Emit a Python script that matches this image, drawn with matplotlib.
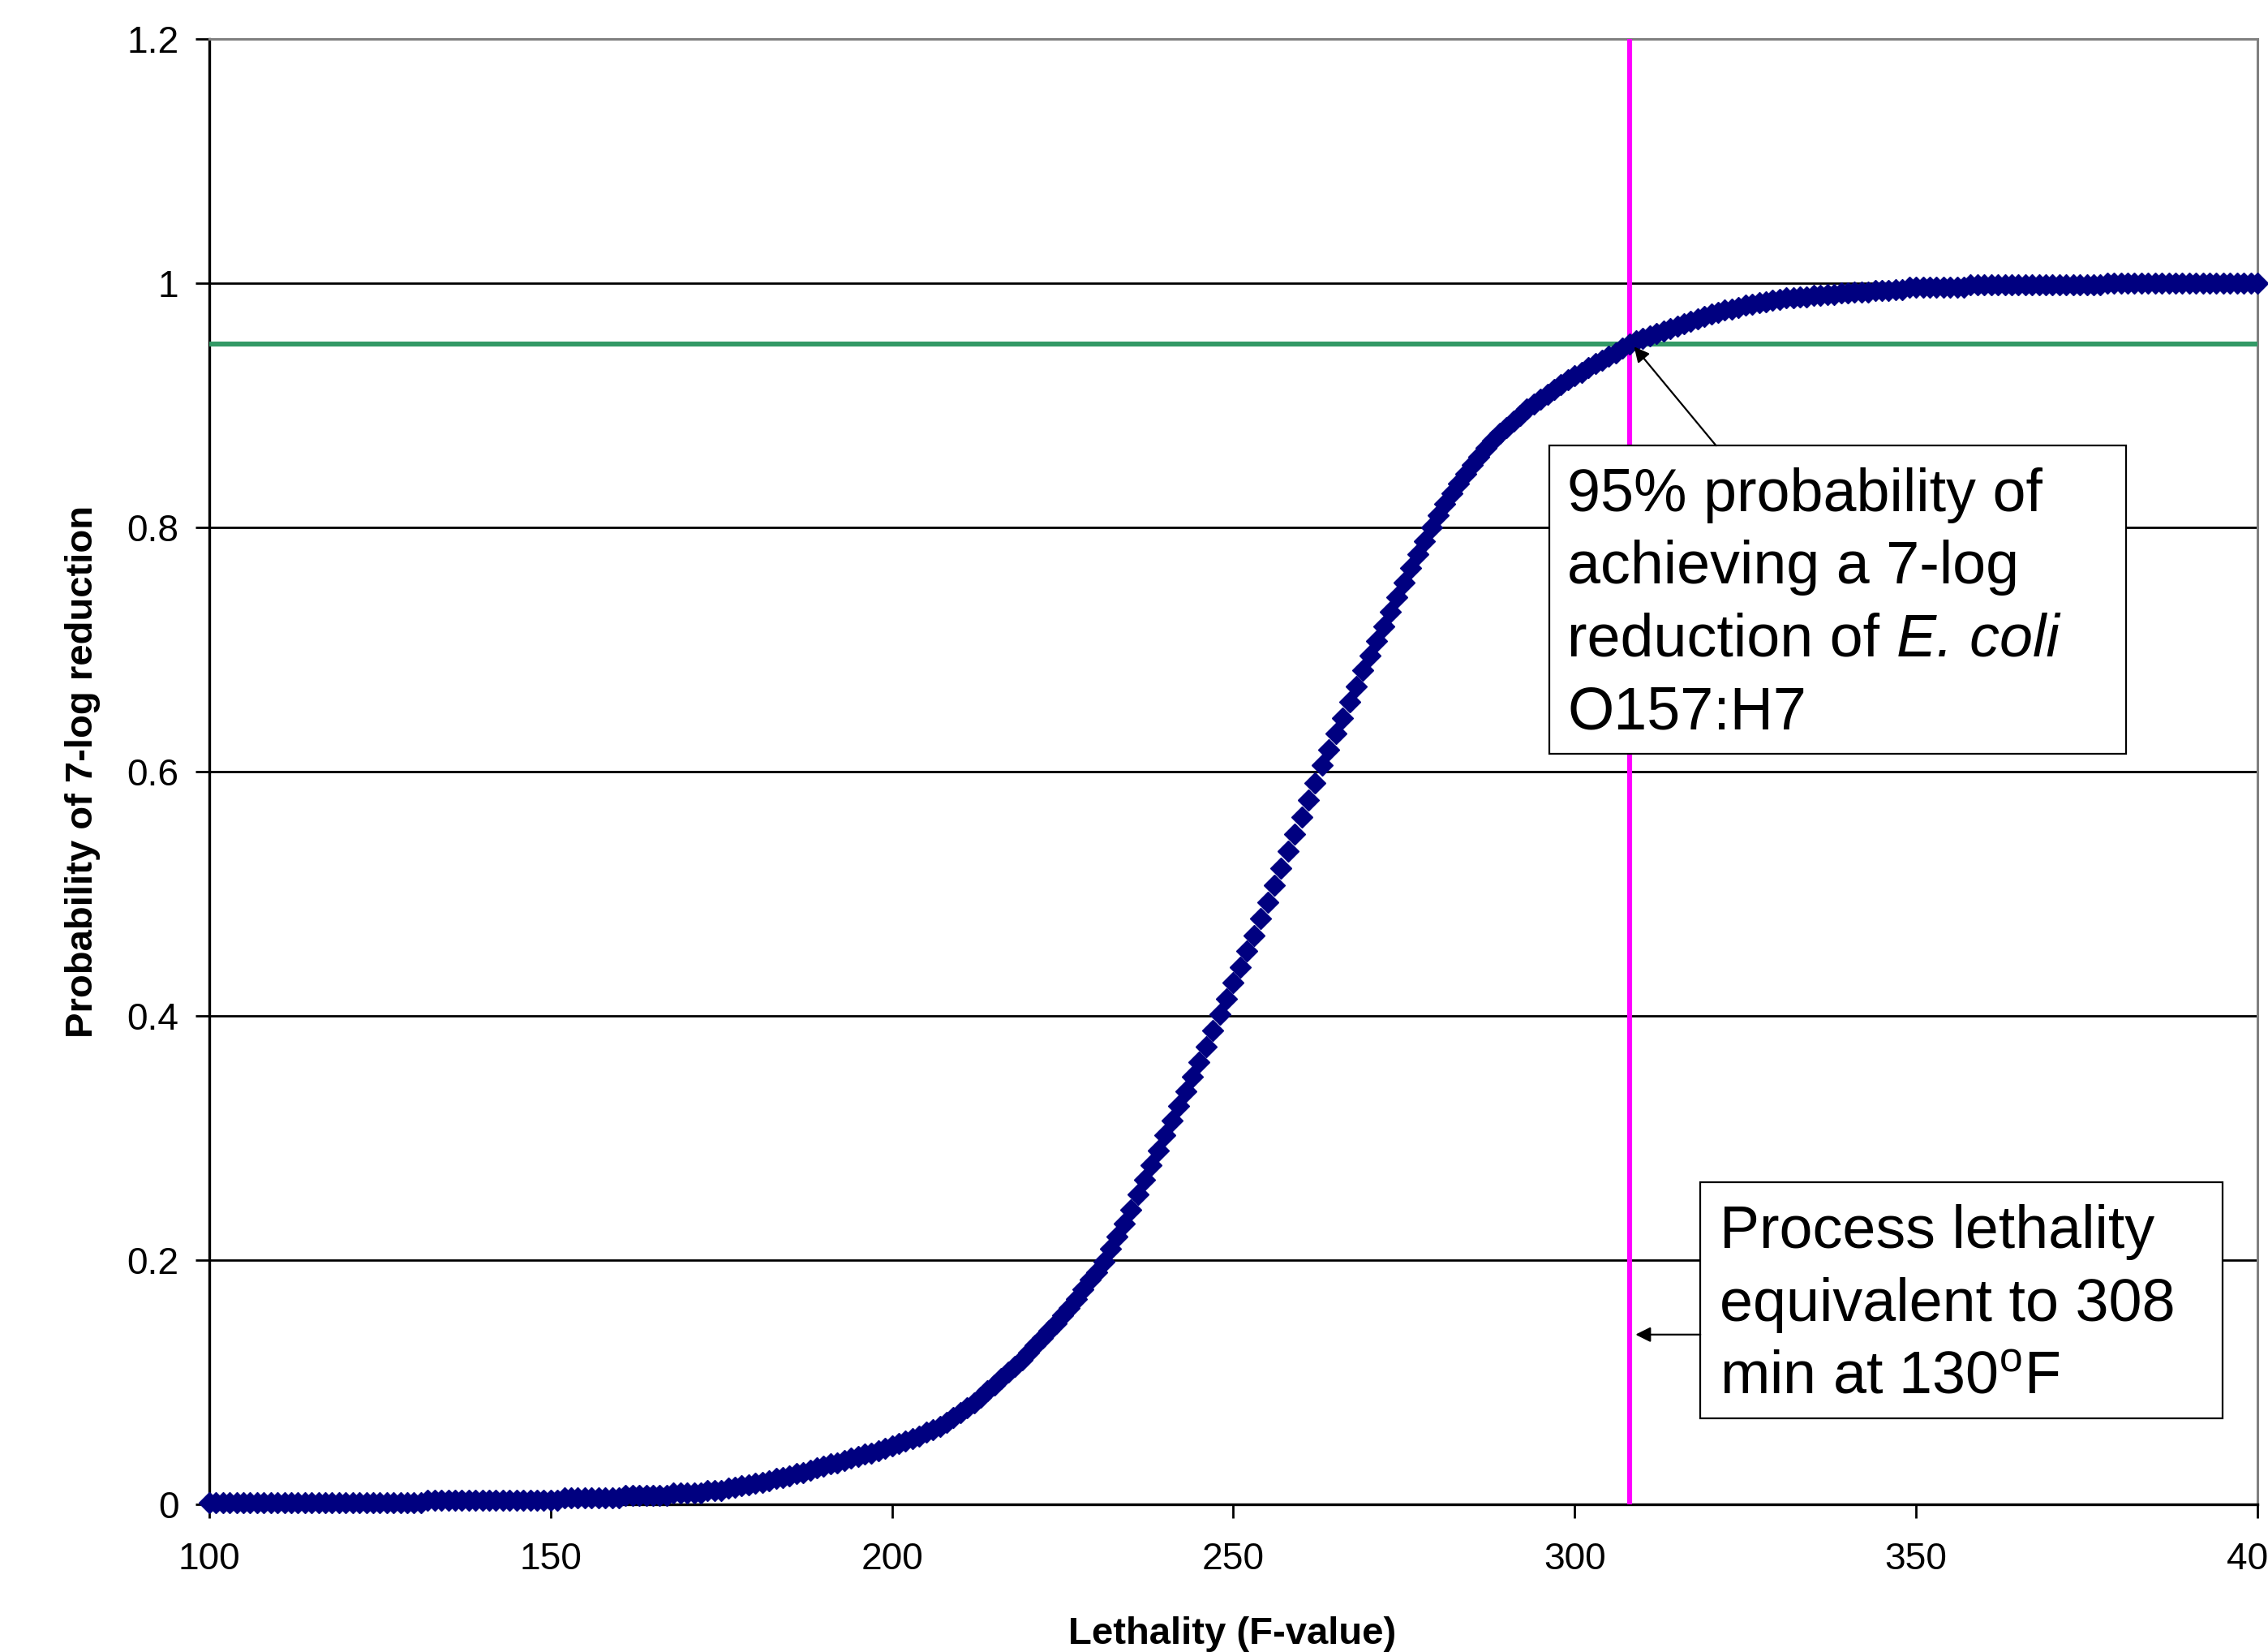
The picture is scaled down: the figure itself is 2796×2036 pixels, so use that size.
import matplotlib
matplotlib.use('Agg')
import matplotlib.pyplot as plt
from matplotlib.patches import Rectangle

plt.rcParams['font.family'] = 'Liberation Sans'
plt.rcParams['mathtext.fontset'] = 'custom'
plt.rcParams['mathtext.rm'] = 'Liberation Sans'
plt.rcParams['mathtext.it'] = 'Liberation Sans:italic'

# lethality (F-value), one point per unit
lethality = list(range(100, 401))

# probability of a 7-log reduction
probability = [
    # 100 - 131
    0.001, 0.001, 0.001, 0.001, 0.001, 0.001, 0.001, 0.001, 0.001, 0.001,
    0.001, 0.001, 0.001, 0.001, 0.001, 0.001, 0.001, 0.001, 0.001, 0.001,
    0.001, 0.001, 0.001, 0.001, 0.001, 0.001, 0.001, 0.001, 0.001, 0.001,
    0.001, 0.001,
    # 132 - 151
    0.003, 0.003, 0.003, 0.003, 0.003, 0.003, 0.003, 0.003, 0.003, 0.003,
    0.003, 0.003, 0.003, 0.003, 0.003, 0.003, 0.003, 0.003, 0.003, 0.003,
    # 152 - 175
    0.005, 0.005, 0.005, 0.005, 0.005, 0.005, 0.005, 0.005, 0.005,
    0.007, 0.007, 0.007, 0.007, 0.007, 0.007, 0.007,
    0.009, 0.009, 0.009, 0.009, 0.009,
    0.011, 0.011, 0.011,
    # 176 - 345
    0.013, 0.014, 0.015, 0.016, 0.017, 0.018, 0.019, 0.021, 0.022, 0.023,
    0.025, 0.026, 0.028, 0.030, 0.031, 0.033, 0.034, 0.036, 0.038, 0.039,
    0.041, 0.042, 0.044, 0.046, 0.048, 0.050, 0.052, 0.054, 0.056, 0.059,
    0.061, 0.064, 0.067, 0.071, 0.075, 0.079, 0.083, 0.088, 0.093, 0.098,
    0.103, 0.108, 0.113, 0.118, 0.124, 0.130, 0.136, 0.142, 0.148, 0.155,
    0.161, 0.168, 0.176, 0.184, 0.190, 0.199, 0.209, 0.219, 0.230, 0.241,
    0.254, 0.266, 0.278, 0.290, 0.302, 0.314, 0.326, 0.338, 0.350, 0.362,
    0.375, 0.388, 0.401, 0.414, 0.427, 0.440, 0.453, 0.466, 0.480, 0.493,
    0.507, 0.521, 0.535, 0.549, 0.563, 0.577, 0.591, 0.605, 0.618, 0.631,
    0.644, 0.657, 0.670, 0.683, 0.695, 0.707, 0.719, 0.731, 0.743, 0.755,
    0.767, 0.778, 0.789, 0.800, 0.810, 0.819, 0.828, 0.836, 0.844, 0.851,
    0.858, 0.865, 0.871, 0.877, 0.882, 0.887, 0.892, 0.897, 0.901, 0.905,
    0.909, 0.913, 0.917, 0.921, 0.924, 0.927, 0.931, 0.934, 0.937, 0.940,
    0.943, 0.947, 0.950, 0.953, 0.955, 0.957, 0.959, 0.961, 0.963, 0.965,
    0.967, 0.969, 0.971, 0.973, 0.975, 0.976, 0.978, 0.979, 0.980, 0.982,
    0.983, 0.984, 0.985, 0.986, 0.987, 0.988, 0.988, 0.989, 0.989, 0.990,
    0.990, 0.991, 0.991, 0.992, 0.992, 0.993, 0.993, 0.993, 0.994, 0.994,
    # 346 - 357
    0.994, 0.995, 0.995,
    0.997, 0.997, 0.997, 0.997, 0.997, 0.997, 0.997, 0.997, 0.997,
    # 358 - 377
    0.999, 0.999, 0.999, 0.999, 0.999, 0.999, 0.999, 0.999, 0.999, 0.999,
    0.999, 0.999, 0.999, 0.999, 0.999, 0.999, 0.999, 0.999, 0.999, 0.999,
    # 378 - 400
    1.000, 1.000, 1.000, 1.000, 1.000, 1.000, 1.000, 1.000, 1.000, 1.000,
    1.000, 1.000, 1.000, 1.000, 1.000, 1.000, 1.000, 1.000, 1.000, 1.000,
    1.000, 1.000, 1.000,
]

target_prob = 0.95
process_f = 308

x_ticks = [100, 150, 200, 250, 300, 350, 400]
y_ticks = [0, 0.2, 0.4, 0.6, 0.8, 1.0, 1.2]
y_tick_labels = ['0', '0.2', '0.4', '0.6', '0.8', '1', '1.2']

note_top = ['95% probability of', 'achieving a 7-log',
            'reduction of', 'O157:H7']
note_species = 'E. coli'
note_bottom = ['Process lethality', 'equivalent to 308',
               r'min at 130$^{\mathrm{o}}$F']

fig = plt.figure(figsize=(13.98, 10.18), dpi=200)
ax = fig.add_axes([0.09227, 0.08939, 0.90308, 0.88703])

ax.plot(lethality, probability, linestyle='none', marker='D', markersize=6.6,
        color='#000080', markeredgecolor='#000080', markeredgewidth=0.5,
        zorder=4, clip_on=False)

ax.axhline(target_prob, color='#339966', lw=2.2, zorder=3)
ax.axvline(process_f, color='#ff00ff', lw=2.2, zorder=3)

ax.set_xlim(100, 400)
ax.set_ylim(0, 1.2)
ax.set_xticks(x_ticks)
ax.set_yticks(y_ticks)
ax.set_yticklabels(y_tick_labels)
ax.tick_params(axis='both', direction='out', length=6, width=1.0,
               labelsize=16.6, color='black')
ax.tick_params(axis='x', pad=10.5)
ax.tick_params(axis='y', pad=7.5)

ax.set_axisbelow(True)
ax.yaxis.grid(True, color='black', lw=1.0)

for side in ['left', 'bottom']:
    ax.spines[side].set_color('black')
    ax.spines[side].set_linewidth(1.2)
for side in ['top', 'right']:
    ax.spines[side].set_color('#808080')
    ax.spines[side].set_linewidth(1.1)

# annotation boxes
ax.add_patch(Rectangle((296.3, 0.6146), 84.4, 0.2524, facecolor='white',
                       edgecolor='black', lw=0.8, zorder=5))
ax.add_patch(Rectangle((318.4, 0.0706), 76.5, 0.1934, facecolor='white',
                       edgecolor='black', lw=0.8, zorder=5))

top_texts = []
for i, line in enumerate(note_top):
    t = ax.text(298.9, 0.8133 - i * 0.0594, line, fontsize=26.5, ha='left',
                va='baseline', zorder=6)
    top_texts.append(t)
# italic species name right after "reduction of"
ax.annotate(note_species, xy=(1, 0), xycoords=top_texts[2],
            xytext=(7.6, 0), textcoords='offset points', fontsize=26.5,
            style='italic', ha='left', va='bottom', zorder=6)

for i, line in enumerate(note_bottom):
    ax.text(321.2, 0.2098 - i * 0.0597, line, fontsize=26.5, ha='left',
            va='baseline', zorder=6)

ax.annotate('', xy=(308.7, 0.948), xytext=(320.7, 0.867),
            arrowprops=dict(arrowstyle='-|>', color='black', lw=0.8,
                            mutation_scale=14, shrinkA=0, shrinkB=0),
            zorder=6)
ax.annotate('', xy=(308.9, 0.139), xytext=(318.4, 0.139),
            arrowprops=dict(arrowstyle='-|>', color='black', lw=0.8,
                            mutation_scale=14, shrinkA=0, shrinkB=0),
            zorder=6)

fig.text(0.0365, 0.5330, 'Probability of 7-log reduction', rotation=90,
         fontsize=17, fontweight='bold', ha='center', va='center')
fig.text(0.5433, 0.0049, 'Lethality (F-value)', fontsize=17,
         fontweight='bold', ha='center', va='baseline')

fig.savefig('out.png', dpi=200)
